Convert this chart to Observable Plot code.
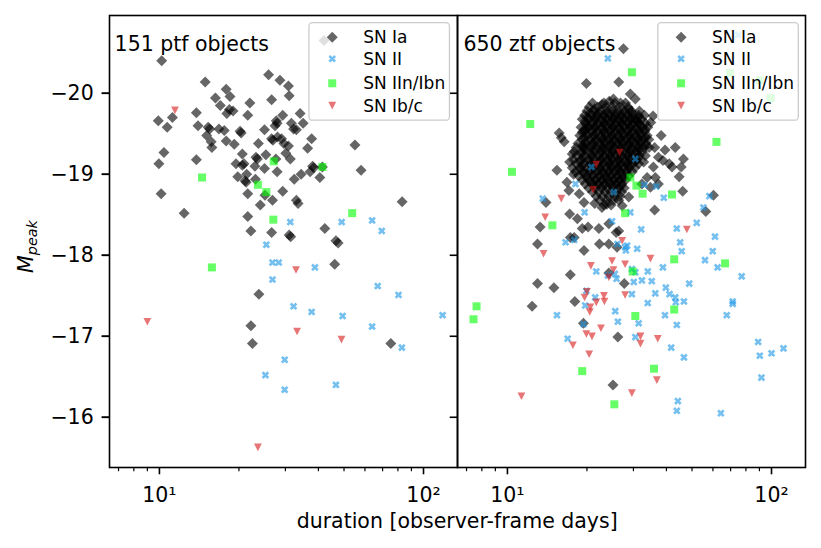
<!DOCTYPE html>
<html><head><meta charset="utf-8">
<script src="https://cdn.jsdelivr.net/npm/d3@7"></script>
<script src="https://cdn.jsdelivr.net/npm/@observablehq/plot@0.6"></script>
<style>body{margin:0;background:#fff} svg{font-family:"DejaVu Sans";}</style>
</head><body><div id="chart"></div>
<script>
// ---------- labels / ticks ----------
const surveys = ["ptf", "ztf"];
const panelLabels = ["151 ptf objects", "650 ztf objects"];
const classes = ["SN Ia", "SN II", "SN IIn/Ibn", "SN Ib/c"];
const xTicks = [10, 100];
const xTickLabels = ["10¹", "10²"];
const xMinorTicks = [7, 8, 9, 20, 30, 40, 50, 60, 70, 80, 90];
const yTicks = [-20, -19, -18, -17, -16];
const xLabel = "duration [observer-frame days]";

// ---------- PTF data: [duration, M_peak] ----------
const ptfIa = [[10.2,-20.40],[14.9,-20.14],[17.9,-20.05],[18.5,-19.96],[16.3,-19.94],[17.0,-19.85],[18.4,-19.80],[18.0,-19.75],[19.0,-19.78],[22.0,-19.88],[25.9,-20.23],[28.6,-20.16],[30.8,-20.09],[31.0,-19.97],[26.6,-19.92],[29.3,-19.73],[34.1,-19.75],[35.0,-19.63],[31.6,-19.63],[32.2,-19.56],[27.9,-19.63],[27.4,-19.60],[27.7,-19.66],[21.6,-19.73],[13.8,-19.76],[14.0,-19.60],[15.5,-19.56],[15.3,-19.58],[16.8,-19.56],[17.6,-19.54],[15.1,-19.48],[15.7,-19.40],[15.8,-19.33],[17.9,-19.41],[19.2,-19.37],[20.4,-19.51],[20.2,-19.53],[25.0,-19.55],[23.7,-19.38],[26.6,-19.44],[26.9,-19.42],[28.0,-19.46],[29.0,-19.44],[29.6,-19.38],[30.8,-19.35],[33.0,-19.55],[37.7,-19.44],[36.4,-19.32],[55.0,-19.36],[9.9,-19.66],[10.7,-19.58],[11.2,-19.70],[10.4,-19.27],[9.95,-19.13],[13.8,-19.18],[20.6,-19.25],[23.2,-19.21],[23.5,-19.19],[25.3,-19.24],[27.6,-19.19],[30.1,-19.26],[31.3,-19.19],[19.5,-19.13],[20.6,-19.11],[20.9,-19.13],[23.0,-19.10],[25.0,-19.07],[27.9,-19.03],[21.4,-19.00],[19.8,-18.97],[21.1,-18.92],[21.3,-18.90],[23.1,-18.94],[32.4,-18.94],[34.4,-19.00],[37.2,-19.03],[38.4,-19.08],[38.0,-19.10],[40.5,-18.96],[41.4,-19.09],[58.0,-19.05],[10.15,-18.76],[21.6,-18.76],[25.1,-18.74],[26.8,-18.68],[29.3,-18.79],[33.0,-18.68],[33.5,-18.64],[24.1,-18.62],[12.4,-18.52],[21.6,-18.48],[22.2,-18.30],[26.6,-18.28],[31.4,-18.23],[31.0,-18.25],[42.3,-18.33],[46.6,-18.18],[47.5,-18.15],[83.0,-18.66],[46.1,-17.89],[23.8,-17.52],[22.2,-17.13],[22.5,-16.91],[75.2,-16.91],[42.0,-20.65]];
const ptfII = [[31.3,-18.41],[25.4,-18.13],[49.0,-18.41],[63.9,-18.43],[69.5,-18.30],[26.8,-17.91],[28.3,-17.91],[38.8,-17.85],[26.8,-17.70],[67.1,-17.62],[80.4,-17.51],[118.1,-17.26],[32.2,-17.37],[37.7,-17.30],[49.4,-17.25],[63.9,-17.12],[82.8,-16.86],[29.8,-16.71],[25.2,-16.52],[29.8,-16.34],[46.6,-16.40]];
const ptfIIn = [[41.4,-19.09],[27.1,-19.16],[14.5,-18.96],[23.6,-18.87],[25.4,-18.78],[27.0,-18.44],[53.7,-18.52],[15.8,-17.85]];
const ptfIbc = [[11.45,-19.79],[32.9,-17.82],[9.0,-17.18],[33.2,-17.06],[48.9,-16.96],[23.6,-15.63]];

// ---------- ZTF data ----------
// dense core of SN Ia, rows: [M_peak, durations...]
const ztfIaCore = [
 [-19.88, 21.0, 23.2, 25.5, 28.0],
 [-19.83, 20.4, 22.0, 23.6, 24.9, 26.6, 28.6],
 [-19.78, 20.0, 21.3, 22.5, 23.8, 25.0, 26.4, 27.8, 29.5, 31.6],
 [-19.73, 19.6, 20.8, 21.9, 23.1, 24.3, 25.6, 26.9, 28.3, 29.8, 31.4, 33.0],
 [-19.68, 19.2, 20.4, 21.5, 22.7, 23.9, 25.1, 26.4, 27.7, 29.1, 30.6, 32.2],
 [-19.63, 19.8, 21.0, 22.1, 23.3, 24.5, 25.8, 27.1, 28.5, 30.0, 31.5, 33.3],
 [-19.58, 19.0, 20.3, 21.5, 22.7, 23.9, 25.1, 26.4, 27.8, 29.2, 30.8, 32.4, 34.0],
 [-19.53, 19.5, 20.8, 22.0, 23.2, 24.4, 25.7, 27.0, 28.4, 29.9, 31.4, 33.1],
 [-19.48, 18.8, 20.1, 21.3, 22.5, 23.7, 24.9, 26.2, 27.6, 29.0, 30.5, 32.1, 33.8],
 [-19.43, 19.2, 20.5, 21.7, 22.9, 24.1, 25.4, 26.7, 28.1, 29.6, 31.1, 32.7, 34.3],
 [-19.38, 18.5, 19.8, 21.0, 22.2, 23.4, 24.6, 25.9, 27.3, 28.7, 30.2, 31.8, 33.4],
 [-19.33, 18.2, 19.4, 20.6, 21.8, 23.0, 24.2, 25.5, 26.8, 28.2, 29.7, 31.2, 32.8, 34.4],
 [-19.28, 17.9, 19.1, 20.3, 21.5, 22.7, 23.9, 25.1, 26.4, 27.8, 29.3, 30.8, 32.4],
 [-19.23, 18.3, 19.6, 20.9, 22.1, 23.3, 24.5, 25.8, 27.1, 28.5, 30.0, 31.6, 33.3],
 [-19.18, 17.8, 19.0, 20.3, 21.5, 22.7, 23.9, 25.1, 26.4, 27.8, 29.3, 30.8],
 [-19.13, 18.2, 19.5, 20.7, 21.9, 23.1, 24.3, 25.6, 26.9, 28.3, 29.8, 31.4],
 [-19.08, 17.6, 18.8, 20.0, 21.2, 22.4, 23.6, 24.8, 26.1, 27.5, 28.9, 30.4],
 [-19.03, 18.1, 19.4, 20.6, 21.8, 23.0, 24.2, 25.5, 26.8, 28.2, 29.7],
 [-18.98, 18.6, 19.9, 21.1, 22.3, 23.5, 24.7, 26.0, 27.4, 28.8],
 [-18.93, 19.2, 20.4, 21.6, 22.8, 24.0, 25.3, 26.6, 28.0],
 [-18.88, 19.7, 20.9, 22.1, 23.3, 24.5, 25.8, 27.1],
 [-18.83, 20.3, 21.5, 22.7, 23.9, 25.1, 26.4, 27.7],
 [-18.78, 21.0, 22.2, 23.4, 24.6, 25.9, 27.1],
 [-18.73, 21.7, 22.9, 24.2, 25.5, 26.7],
 [-18.68, 22.4, 23.8, 25.2],
 [-18.62, 23.2, 24.7]
];
// second, overlapping layer of the core
const ztfIaCore2 = [
 [-19.755, 20.6, 22.2, 23.9, 25.7, 27.6, 29.7],
 [-19.705, 20.1, 21.7, 23.4, 25.2, 27.1, 29.2, 31.4],
 [-19.655, 19.7, 21.3, 23.0, 24.8, 26.7, 28.8, 31.0],
 [-19.605, 20.0, 21.7, 23.4, 25.3, 27.3, 29.5, 31.9],
 [-19.555, 19.6, 21.2, 22.9, 24.7, 26.6, 28.7, 31.0, 33.2],
 [-19.505, 19.9, 21.6, 23.4, 25.3, 27.3, 29.5, 31.9],
 [-19.455, 19.5, 21.1, 22.8, 24.6, 26.6, 28.8, 31.1, 33.4],
 [-19.405, 19.8, 21.5, 23.3, 25.2, 27.2, 29.4, 31.8],
 [-19.355, 19.2, 20.9, 22.7, 24.6, 26.6, 28.8, 31.1, 33.5],
 [-19.305, 19.6, 21.3, 23.1, 25.0, 27.0, 29.2, 31.6],
 [-19.255, 19.0, 20.7, 22.5, 24.4, 26.4, 28.6, 30.9],
 [-19.205, 19.4, 21.1, 22.9, 24.8, 26.8, 29.0, 31.3],
 [-19.155, 18.8, 20.5, 22.3, 24.2, 26.2, 28.4, 30.5],
 [-19.105, 19.2, 20.9, 22.7, 24.6, 26.6, 28.7],
 [-19.055, 18.9, 20.6, 22.4, 24.3, 26.3, 28.4],
 [-19.005, 19.5, 21.2, 23.0, 24.9, 26.9],
 [-18.955, 20.0, 21.8, 23.6, 25.6, 27.6],
 [-18.905, 20.6, 22.4, 24.3, 26.3],
 [-18.855, 21.3, 23.1, 25.0, 26.9]
];
const ztfIaOuter = [[27.5,-20.55],[19.9,-20.12],[26.4,-20.14],[29.2,-19.99],[30.5,-19.93],[15.7,-19.51],[34.9,-19.64],[43.2,-19.33],[46.4,-19.19],[45.5,-19.09],[42.0,-19.09],[44.7,-18.97],[46.1,-18.79],[36.1,-18.56],[60.3,-18.74],[56.4,-18.54],[14.0,-18.65],[13.3,-18.35],[13.0,-18.14],
 [21.4,-19.81],[22.8,-19.86],[24.3,-19.90],[26.8,-19.88],[28.8,-19.81],[25.2,-19.93],[30.9,-19.66],[19.2,-19.52],[20.3,-19.58],[17.6,-19.25],[19.5,-19.35],[15.4,-19.05],[16.8,-18.90],[17.8,-19.00],[17.1,-18.80],[18.7,-18.76],[19.5,-18.65],[21.4,-18.64],[22.8,-18.59],[23.8,-18.63],
 [36.1,-19.33],[37.3,-19.21],[35.7,-19.09],[36.3,-18.96],[37.3,-18.88],[32.8,-19.15],[33.8,-18.96],[32.3,-18.88],[34.8,-18.84],[26.4,-18.68],[27.2,-18.61],[28.8,-18.72],
 [16.0,-19.45],[16.4,-19.40],[17.2,-19.15],[35.6,-19.72],[38.2,-19.48],[39.5,-19.30],[38.8,-19.17],[41.0,-19.13],
 [17.2,-18.51],[18.4,-18.45],[19.2,-18.33],[17.3,-18.22],[20.2,-18.35],[22.2,-18.33],[24.2,-18.39],[26.4,-18.30],[22.3,-18.14],[24.2,-18.14],[26.0,-18.10],[19.5,-18.06],[17.9,-18.22],[25.8,-18.28],
 [13.0,-17.65],[15.0,-17.60],[17.3,-17.76],[12.4,-17.37],[18.0,-17.43],[19.4,-17.16],[26.2,-16.99],[25.1,-16.40],[27.7,-17.65],[24.2,-17.78]];
const ztfII = [[24.0,-20.43],[74.8,-20.72],[13.6,-18.70],[16.6,-18.16],[17.9,-18.19],[20.8,-19.09],[30.5,-19.19],[25.3,-18.78],[18.1,-18.88],[19.6,-18.53],[24.9,-18.42],[29.2,-18.53],[28.4,-18.12],[31.0,-18.08],[58.2,-18.73],[55.2,-18.59],[52.1,-18.40],[43.8,-18.33],[39.1,-18.71],[36.6,-18.85],[33.0,-18.87],[32.1,-18.32],[45.1,-18.16],[61.1,-18.23],
 [27.9,-18.10],[28.1,-18.06],[26.1,-18.14],[45.7,-18.05],[59.9,-18.05],[56.0,-17.94],[62.5,-17.85],[77.1,-17.74],[48.8,-17.65],[38.8,-17.85],[34.0,-17.80],[35.2,-17.68],[32.3,-17.69],[30.1,-17.67],[29.6,-17.52],[30.5,-17.79],[21.7,-17.80],[24.0,-17.75],[25.5,-17.77],[25.9,-17.71],[19.9,-17.56],[21.5,-17.48],[19.7,-17.38],[36.3,-17.53],[39.8,-17.60],[41.1,-17.52],[43.2,-17.48],[43.4,-17.42],[46.6,-17.43],[34.0,-17.41],[15.4,-17.26],[25.6,-17.31],[26.2,-17.18],[31.4,-17.16],[39.5,-17.26],[43.8,-17.14],[19.4,-17.15],[16.9,-16.97],[30.5,-16.99],[41.7,-16.86],[46.6,-16.74],[67.7,-17.26],[71.3,-17.43],[71.3,-17.40],[89.0,-16.93],[90.3,-16.76],[100,-16.79],[111,-16.85],[91.6,-16.49],[44.2,-16.20],[43.8,-16.08],[64.3,-16.05],[29.6,-17.83]];
const ztfIIn = [[29.6,-20.26],[69.6,-20.25],[90.3,-20.16],[99.3,-19.94],[12.2,-19.62],[10.4,-19.03],[61.9,-19.40],[42.0,-18.75],[29.2,-18.96],[30.8,-18.86],[32.5,-18.76],[27.9,-18.52],[14.8,-18.37],[7.64,-17.37],[7.44,-17.21],[29.8,-17.80],[42.8,-17.95],[66.7,-17.90],[30.5,-17.25],[42.8,-17.33],[19.2,-16.57],[35.9,-16.60],[25.4,-16.16]];
const ztfIbc = [[26.6,-19.27],[21.7,-19.12],[21.1,-18.81],[16.0,-18.70],[13.9,-18.47],[47.8,-18.32],[27.2,-18.18],[13.7,-18.02],[20.7,-17.87],[24.9,-17.93],[25.2,-17.82],[27.9,-17.89],[34.8,-17.96],[24.2,-17.73],[20.0,-17.55],[19.6,-17.48],[23.2,-17.50],[21.7,-17.42],[23.3,-17.43],[27.9,-17.51],[20.6,-17.36],[20.5,-17.30],[22.6,-17.10],[19.9,-17.03],[20.9,-17.00],[31.9,-17.00],[31.9,-16.91],[37.1,-16.97],[17.7,-16.89],[20.4,-16.78],[36.8,-16.46],[29.6,-16.30],[11.3,-16.26]];

// ---------- build table ----------
const rows = [];
function add(survey, cls, arr) { for (const [d, m] of arr) rows.push({survey, cls, d, m}); }
function addRows(survey, cls, arr) { for (const [m, ...ds] of arr) for (const d of ds) rows.push({survey, cls, d, m}); }
add("ptf", "SN Ia", ptfIa); add("ptf", "SN II", ptfII); add("ptf", "SN IIn/Ibn", ptfIIn); add("ptf", "SN Ib/c", ptfIbc);
addRows("ztf", "SN Ia", ztfIaCore); addRows("ztf", "SN Ia", ztfIaCore2);
add("ztf", "SN Ia", ztfIaOuter); add("ztf", "SN II", ztfII); add("ztf", "SN IIn/Ibn", ztfIIn); add("ztf", "SN Ib/c", ztfIbc);

// ---------- marker shapes (matplotlib-like) ----------
const poly = (pts) => ({draw(ctx, size) {
  const r = Math.sqrt(size / Math.PI);
  ctx.moveTo(pts[0][0] * r, pts[0][1] * r);
  for (let i = 1; i < pts.length; ++i) ctx.lineTo(pts[i][0] * r, pts[i][1] * r);
  ctx.closePath();
}});
const symDiamond = poly([[0,-1],[1,0],[0,1],[-1,0]]);
const symX = poly([[-1,-2],[0,-1],[1,-2],[2,-1],[1,0],[2,1],[1,2],[0,1],[-1,2],[-2,1],[-1,0],[-2,-1]].map(([a,b]) => [a/2, b/2]));
const symSquare = poly([[-1,-1],[1,-1],[1,1],[-1,1]]);
const symTri = poly([[-1,-0.95],[1,-0.95],[0,1]]);
const styles = {
  "SN Ia":      {symbol: symDiamond, r: 5.5, fill: "#000000"},
  "SN II":      {symbol: symX,       r: 3.8, fill: "#1a96e6"},
  "SN IIn/Ibn": {symbol: symSquare,  r: 4.0, fill: "#00ff00"},
  "SN Ib/c":    {symbol: symTri,     r: 3.9, fill: "#d71919"}
};

const W = 821, H = 548, mL = 108.3, mR = 15, mT = 15, mB = 81;
const facetW = (W - mL - mR) / 2;

const dots = classes.map(c => Plot.dot(rows.filter(r => r.cls === c), {
  x: "d", y: "m", fx: "survey",
  symbol: styles[c].symbol, r: styles[c].r, fill: styles[c].fill, fillOpacity: 0.6, stroke: null
}));

const svg = Plot.plot({
  width: W, height: H,
  marginLeft: mL, marginRight: mR, marginTop: mT, marginBottom: mB,
  style: {fontFamily: "DejaVu Sans", background: "white", color: "black", overflow: "visible"},
  fx: {domain: surveys, padding: 0, axis: null, label: null},
  x: {type: "log", domain: [6.47, 134.5]},
  y: {domain: [-15.38, -20.96]},
  marks: [
    ...dots,
    Plot.frame({stroke: "black", strokeWidth: 1.6}),
    Plot.axisX({ticks: xTicks, tickFormat: d => xTickLabels[xTicks.indexOf(d)], tickSize: 7.3, tickPadding: 13, fontSize: 20.5, strokeWidth: 1.6, label: null}),
    Plot.axisX({ticks: xMinorTicks, tickFormat: () => "", tickSize: 4.2, strokeWidth: 1.2, label: null}),
    Plot.axisY({ticks: yTicks, tickFormat: d => "\u2212" + Math.abs(d), tickSize: 7.3, tickPadding: 8.5, fontSize: 20.5, strokeWidth: 1.6, label: null}),
    Plot.axisY({ticks: yTicks, facetAnchor: null, tickFormat: () => "", tickSize: 7.3, strokeWidth: 1.6, label: null})
  ]
});

// ---------- annotations, legends, axis titles ----------
const s = d3.select(svg);
surveys.forEach((sv, i) => {
  const left = mL + i * facetW, right = left + facetW;
  s.append("text").attr("x", left + 6.3).attr("y", 51).attr("text-anchor", "start")
    .attr("font-size", 20.5).attr("fill", "black").text(panelLabels[i]);
  const bw = 140.5, bh = 97.5, bx = right - 7.7 - bw, by = 22.7;
  const g = s.append("g");
  g.append("rect").attr("x", bx).attr("y", by).attr("width", bw).attr("height", bh).attr("rx", 3.5)
    .attr("fill", "white").attr("fill-opacity", 0.8).attr("stroke", "#cccccc").attr("stroke-width", 1.3);
  const rowY = [37.2, 58.8, 83.3, 105.5];
  classes.forEach((c, j) => {
    const st = styles[c];
    g.append("path").attr("d", d3.symbol(st.symbol, Math.PI * st.r * st.r)())
      .attr("transform", `translate(${bx + 23.3},${rowY[j]})`).attr("fill", st.fill).attr("fill-opacity", 0.6);
    g.append("text").attr("x", bx + 54.2).attr("y", rowY[j] + 6).attr("text-anchor", "start")
      .attr("font-size", 17).attr("fill", "black").text(c);
  });
});
s.append("text").attr("x", mL + facetW).attr("y", 528.3).attr("text-anchor", "middle").attr("font-size", 20.5).attr("fill", "black").text(xLabel);
const yl = s.append("text").attr("transform", "translate(33,246.5) rotate(-90)").attr("text-anchor", "middle").attr("font-size", 20.5).attr("fill", "black").attr("font-style", "italic");
yl.append("tspan").text("M");
yl.append("tspan").attr("font-size", 14.4).attr("dy", 3.5).text("peak");

document.getElementById("chart").appendChild(svg);
</script>
</body></html>
